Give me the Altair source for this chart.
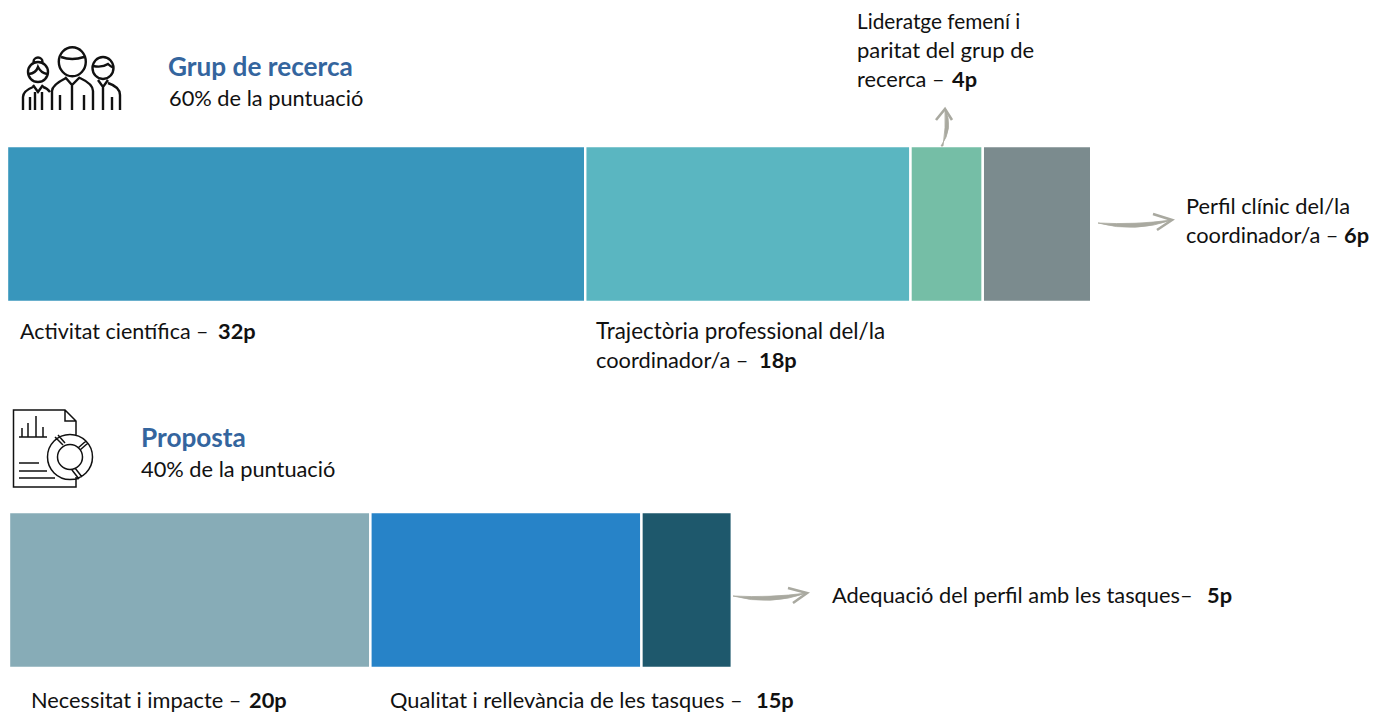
import altair as alt
import pandas as pd

# Values
groups = ["Grup de recerca", "Grup de recerca", "Grup de recerca", "Grup de recerca", "Proposta", "Proposta", "Proposta"]
categories = ["Activitat científica", "Trajectòria professional", "Lideratge femení", "Perfil clínic",
              "Necessitat i impacte", "Qualitat i rellevància", "Adequació del perfil"]
points = [32, 18, 4, 6, 20, 15, 5]
colors = ["#3896bc", "#5ab6c1", "#75bea6", "#7b8b8e", "#87acb7", "#2783c8", "#1e586c"]
group_titles = ["Grup de recerca", "Proposta"]
group_shares = ["60% de la puntuació", "40% de la puntuació"]

# Layout (page pixels)
PX = 18.07
W, H = 1361, 706
FONT = "Lato"
SIZE = 21.8
TSIZE = 26.2
INK = "#111111"
TITLE_INK = "#34659e"
GROUP_X = {"Grup de recerca": 7, "Proposta": 9}
GROUP_Y = {"Grup de recerca": (146, 302), "Proposta": (512, 668)}

rows, cum = [], {}
for g, c, p, col in zip(groups, categories, points, colors):
    s = cum.get(g, 0)
    cum[g] = s + p
    off = (GROUP_X[g] - 8) / PX
    rows.append(dict(group=g, category=c, start=s + off, end=s + p + off, top=GROUP_Y[g][0] - 8,
                     bottom=GROUP_Y[g][1] - 8, color=col, points=p))
bars = (
    alt.Chart(pd.DataFrame(rows))
    .mark_rect(stroke="white", strokeWidth=2.4)
    .encode(
        x=alt.X("start:Q", axis=None, scale=alt.Scale(domain=[0, W / PX], nice=False, zero=False)),
        x2="end:Q",
        y=alt.Y("top:Q", axis=None, scale=alt.Scale(domain=[0, H], reverse=True, nice=False, zero=False)),
        y2="bottom:Q",
        color=alt.Color("color:N", scale=None),
    )
)

# Text rows: text, x, baseline, bold, size, colour
texts = [
    (group_titles[0], 168, 76, True, TSIZE, TITLE_INK),
    (group_shares[0], 169, 106, False, SIZE, INK),
    (group_titles[1], 141, 447, True, TSIZE, TITLE_INK),
    (group_shares[1], 141, 477, False, SIZE, INK),
    ("Lideratge femení i", 857, 29, False, 20.8, INK),
    ("paritat del grup de", 857, 58, False, 22.0, INK),
    ("recerca –", 857, 87, False, SIZE, INK),
    ("4p", 952, 87, True, SIZE, INK),
    ("Perfil clínic del/la", 1186, 214, False, SIZE, INK),
    ("coordinador/a –", 1186, 243, False, SIZE, INK),
    ("6p", 1344, 243, True, SIZE, INK),
    ("Activitat científica –", 20, 339, False, 21.5, INK),
    ("32p", 218, 339, True, SIZE, INK),
    ("Trajectòria professional del/la", 596, 339, False, 22.4, INK),
    ("coordinador/a –", 596, 368, False, SIZE, INK),
    ("18p", 759, 368, True, SIZE, INK),
    ("Adequació del perfil amb les tasques–", 832, 603, False, SIZE, INK),
    ("5p", 1207, 603, True, SIZE, INK),
    ("Necessitat i impacte –", 31, 708, False, SIZE, INK),
    ("20p", 249, 708, True, SIZE, INK),
    ("Qualitat i rellevància de les tasques –", 390, 708, False, SIZE, INK),
    ("15p", 756, 708, True, SIZE, INK),
]
text_layers = [
    alt.Chart(pd.DataFrame({"t": [t]})).mark_text(
        align="left", baseline="alphabetic", font=FONT, fontSize=s, color=col,
        fontWeight="bold" if b else "normal",
    ).encode(x=alt.value(x - 8), y=alt.value(y - 8), text="t:N")
    for t, x, y, b, s, col in texts
]

# Icons and arrows, paths in page pixels around an anchor at the page origin
people = " ".join([
    "M85.8 61.7A13.5 14.5 0 1 1 58.8 61.7A13.5 14.5 0 1 1 85.8 61.7Z",
    "M61 57Q72 61 84 57",
    "M65 77L72 85L80 77",
    "M52 110L52 91Q52 85 66 78",
    "M80 78Q93 84 93 91L93 110",
    "M72 85L72 110M60 110L60 95M84 110L84 95",
    "M48 72A10 10 0 1 1 28 72A10 10 0 1 1 48 72Z",
    "M42.5 62A4.5 4.5 0 1 0 33.5 62",
    "M29 74Q36 73 38 67Q41 73 47 74",
    "M33 85L38 92L43 85",
    "M23 110L23 97Q23 91 33 87M43 87Q47 88 50 92",
    "M30 110L30 97M35 92L35 110M42 92L42 110",
    "M113.5 68A10.5 11 0 1 1 92.5 68A10.5 11 0 1 1 113.5 68Z",
    "M93 66Q102 68 108 64Q111 67 114 68",
    "M98 80L103 87L108 80",
    "M108 83Q120 87 120 95L120 110",
    "M103 87L103 110M112 97L112 110",
])
document = " ".join([
    "M76 436L76 421L65 410L13.5 410L13.5 487L76 487L76 477",
    "M65 410L65 421L76 421",
    "M19 437L47 437M22 428L22 437M28 423L28 437M36 416L36 437M43 427L43 437",
    "M19 463L39 463M19 471L47 471M19 478L55 478",
    "M92.5 457A22.5 22.5 0 1 1 47.5 457A22.5 22.5 0 1 1 92.5 457Z",
    "M82.5 457A12.5 12.5 0 1 1 57.5 457A12.5 12.5 0 1 1 82.5 457Z",
    "M55 437L63 445M58 435L65 443",
    "M86 441L78 448M88 443L80 450",
    "M75 468L82 477M72 470L79 479",
])
arrow_shafts = [
    "M941 146Q954 128 945 109Q946 128 943 146Z",
    "M1098 223Q1135 233 1172 220Q1135 225 1098 223Z",
    "M733 596Q770 606 807 593Q770 598 733 596Z",
]
arrow_heads = [
    "M936 120L945 109L952 120",
    "M1153 214L1172 220L1157 230",
    "M788 588L807 593L793 603",
]
ARROW = "#a9a9a0"
line_art = [
    alt.Chart(pd.DataFrame({"a": [0]})).mark_point(shape=p, size=4, filled=False, stroke="#111111", strokeWidth=w, opacity=1)
    .encode(x=alt.value(-8), y=alt.value(-8))
    for p, w in [(people, 2.4), (document, 1.5)]
]
line_art += [
    alt.Chart(pd.DataFrame({"a": [0]})).mark_point(shape=p, size=4, filled=True, fill=ARROW, stroke=ARROW, strokeWidth=0.8, opacity=1)
    .encode(x=alt.value(-8), y=alt.value(-8))
    for p in arrow_shafts
]
line_art += [
    alt.Chart(pd.DataFrame({"a": [0]})).mark_point(shape=p, size=4, filled=False, stroke=ARROW, strokeWidth=2.6, opacity=1)
    .encode(x=alt.value(-8), y=alt.value(-8))
    for p in arrow_heads
]

chart = alt.layer(bars, *line_art, *text_layers).properties(
    width=W, height=H, padding=0, autosize=alt.AutoSizeParams(type="none"), background="white",
).configure_view(stroke=None)

chart.save("out.html", embed_options={"renderer": "svg", "actions": False})
